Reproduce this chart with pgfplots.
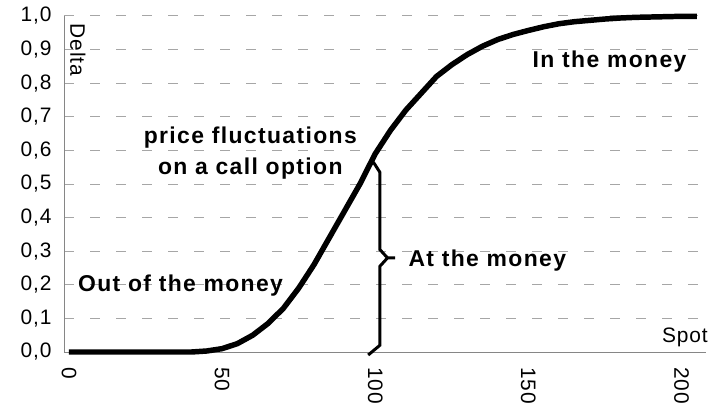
\documentclass[border=0pt]{standalone}
\usepackage{pgfplots}
\pgfplotsset{compat=1.18}
\usepackage{fontspec}
\setmainfont{Liberation Sans}[LetterSpace=4]
\newfontfamily\boldfam{Liberation Sans}[LetterSpace=6]
\newcommand\tf{\fontsize{21}{24}\selectfont}
\newcommand\bff{\boldfam\fontsize{23}{31}\selectfont\bfseries}
\definecolor{gridc}{HTML}{A6A6A6}
\definecolor{axc}{HTML}{868686}
\begin{document}
\begin{tikzpicture}
\begin{axis}[
  scale only axis,
  width=642bp, height=336bp,
  xmin=-1.63, xmax=208, ymin=0, ymax=1,
  axis x line=bottom, axis y line=left,
  axis line style={axc, line width=1pt, -},
  xtick={0,50,100,150,200},
  ytick={0,0.1,...,1.0},
  major tick length=0pt,
  ymajorgrids,
  major grid style={gridc, line width=1pt, dash pattern=on 10bp off 16bp},
  /pgf/number format/assume math mode=true,
  yticklabel style={font=\tf, /pgf/number format/.cd, fixed, fixed zerofill, precision=1, use comma},
  xticklabel style={font=\tf, rotate=-90, anchor=west},
  xticklabel shift=12bp,
  yticklabel shift=9bp,
  clip=false,
]
\addplot[black, line width=5.5pt, line join=round] coordinates {
(0,0) (5,0) (10,0) (15,0) (20,0) (25,0) (30,0) (35,0) (40,0) (45,0.003)
(50,0.01) (55,0.025) (60,0.05) (65,0.085) (70,0.13) (75,0.19) (80,0.26)
(85,0.34) (90,0.42) (95,0.50) (100,0.59) (105,0.66) (110,0.72) (115,0.77)
(120,0.82) (125,0.855) (130,0.885) (135,0.91) (140,0.93) (145,0.945)
(150,0.957) (155,0.968) (160,0.977) (165,0.983) (170,0.987) (175,0.991)
(180,0.994) (185,0.996) (190,0.997) (195,0.998) (200,0.999) (205,0.999)
};
\addplot[black, line width=3pt, line join=miter] coordinates {
(97.7,-0.009) (101.5,0.02) (101.5,0.255) (104,0.28) (106.5,0.28) (104,0.28) (101.5,0.305) (101.5,0.535) (99.4,0.565)
};
\node[font=\bff, align=center, inner sep=0pt] at (axis cs:59.2,0.591) {price fluctuations\\on a call option};
\node[font=\bff, anchor=west, inner sep=0pt] at (axis cs:110.8,0.271) {At the money};
\node[font=\bff, inner sep=0pt] at (axis cs:176.5,0.863) {In the money};
\node[font=\bff, anchor=west, inner sep=0pt] at (axis cs:2.9,0.199) {Out of the money};
\node[font=\tf, rotate=-90, inner sep=0pt] at (axis cs:2.9,0.899) {Delta};
\node[font=\tf, anchor=east, inner sep=0pt] at (axis cs:208.6,0.045) {Spot};
\end{axis}
\pgfresetboundingbox
\path[use as bounding box] ([shift={(-64bp,-57bp)}]current axis.south west) rectangle ++(713bp,409bp);
\end{tikzpicture}
\end{document}
